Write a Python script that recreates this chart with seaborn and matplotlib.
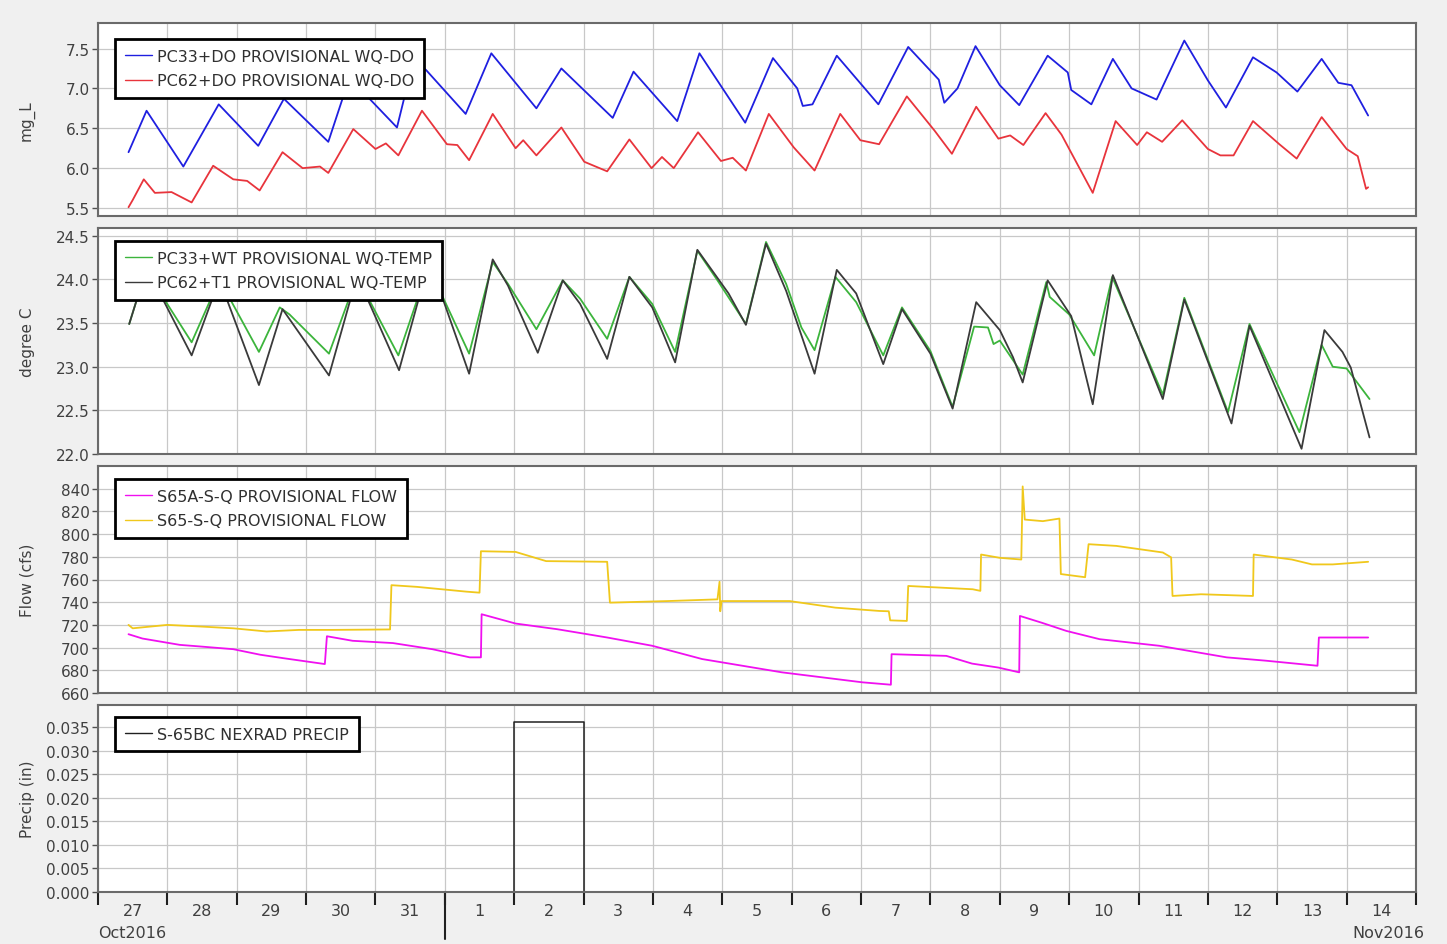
import numpy as np
import pandas as pd
import matplotlib
matplotlib.use('Agg')
import matplotlib.pyplot as plt
import matplotlib.transforms as mtransforms
from matplotlib.ticker import FormatStrFormatter
import seaborn as sns

# --- Dados (dias contados a partir de 27/Out/2016 00:00) ---

# Painel 1: oxigênio dissolvido (mg_L)
do_pc33_dias = [0.44, 0.70, 1.23, 1.74, 2.31, 2.68, 3.32, 3.68, 3.87, 4.31, 4.55, 4.73,
                5.30, 5.67, 6.32, 6.68, 7.42, 7.72, 8.35, 8.67, 9.33, 9.73, 10.08, 10.16,
                10.30, 10.65, 11.25, 11.68, 12.12, 12.20, 12.39, 12.65, 13.00, 13.28, 13.69,
                13.98, 14.03, 14.32, 14.63, 14.90, 15.26, 15.66, 16.00, 16.26, 16.65, 16.99,
                17.29, 17.64, 17.88, 18.07, 18.31]
do_pc33_vals = [6.20, 6.72, 6.02, 6.80, 6.28, 6.87, 6.33, 7.28, 6.91, 6.51, 7.36, 7.23,
                6.68, 7.44, 6.75, 7.25, 6.63, 7.21, 6.59, 7.44, 6.57, 7.38, 7.00, 6.78,
                6.80, 7.41, 6.80, 7.52, 7.11, 6.82, 7.00, 7.53, 7.04, 6.79, 7.41,
                7.20, 6.98, 6.80, 7.37, 7.00, 6.86, 7.60, 7.10, 6.76, 7.39, 7.20,
                6.96, 7.37, 7.07, 7.04, 6.66]

do_pc62_dias = [0.44, 0.50, 0.66, 0.82, 1.06, 1.35, 1.66, 1.95, 2.15, 2.33, 2.66, 2.95,
                3.20, 3.32, 3.68, 4.00, 4.15, 4.33, 4.67, 5.03, 5.18, 5.35, 5.69, 6.02,
                6.13, 6.32, 6.68, 7.01, 7.34, 7.66, 7.98, 8.13, 8.30, 8.65, 8.98, 9.15,
                9.34, 9.67, 10.03, 10.33, 10.70, 10.99, 11.26, 11.66, 12.06, 12.31, 12.66,
                12.98, 13.15, 13.34, 13.66, 13.89, 14.34, 14.67, 14.98, 15.12, 15.34, 15.63,
                16.00, 16.18, 16.37, 16.65, 17.03, 17.28, 17.64, 18.00, 18.16, 18.28, 18.31]
do_pc62_vals = [5.51, 5.60, 5.86, 5.69, 5.70, 5.57, 6.03, 5.86, 5.84, 5.72, 6.20, 6.00,
                6.02, 5.94, 6.49, 6.24, 6.31, 6.16, 6.72, 6.30, 6.29, 6.10, 6.68, 6.25,
                6.35, 6.16, 6.51, 6.08, 5.96, 6.36, 6.00, 6.14, 6.00, 6.45, 6.09, 6.13,
                5.97, 6.68, 6.26, 5.97, 6.68, 6.35, 6.30, 6.90, 6.47, 6.18, 6.77,
                6.37, 6.41, 6.29, 6.69, 6.42, 5.69, 6.59, 6.29, 6.45, 6.33, 6.60,
                6.24, 6.16, 6.16, 6.59, 6.30, 6.12, 6.64, 6.24, 6.15, 5.74, 5.76]

# Painel 2: temperatura (degree C)
wt_pc62_dias = [0.45, 0.65, 0.95, 1.35, 1.75, 2.32, 2.66, 3.33, 3.72, 3.90, 4.34, 4.70,
                4.97, 5.35, 5.69, 5.91, 6.34, 6.70, 6.95, 7.34, 7.66, 7.99, 8.32, 8.64,
                9.09, 9.34, 9.63, 9.92, 10.33, 10.65, 10.93, 11.32, 11.59, 12.00, 12.32,
                12.66, 13.00, 13.19, 13.33, 13.69, 14.03, 14.34, 14.63, 15.35, 15.66, 16.34,
                16.60, 17.35, 17.68, 17.94, 18.06, 18.33]
wt_pc62_vals = [23.49, 24.00, 23.75, 23.13, 24.00, 22.79, 23.66, 22.90, 24.00, 23.75, 22.96, 24.00,
                23.78, 22.92, 24.23, 23.93, 23.16, 23.99, 23.72, 23.09, 24.03, 23.68, 23.05, 24.34,
                23.84, 23.48, 24.41, 23.87, 22.92, 24.11, 23.84, 23.03, 23.66, 23.15, 22.52,
                23.74, 23.42, 23.11, 22.82, 23.99, 23.58, 22.57, 24.05, 22.63, 23.77, 22.35,
                23.47, 22.06, 23.42, 23.17, 22.99, 22.19]

wt_pc33_dias = [0.45, 0.65, 0.95, 1.35, 1.75, 2.32, 2.62, 2.76, 3.33, 3.72, 3.90, 4.33,
                4.70, 4.97, 5.35, 5.69, 5.91, 6.32, 6.70, 6.95, 7.34, 7.66, 7.99, 8.32,
                8.64, 8.93, 9.34, 9.63, 9.92, 10.14, 10.33, 10.63, 10.93, 11.32, 11.59,
                12.00, 12.32, 12.63, 12.83, 12.91, 13.00, 13.33, 13.67, 13.72, 14.00, 14.36,
                14.62, 15.35, 15.66, 16.29, 16.60, 17.32, 17.64, 17.80, 18.00, 18.33]
wt_pc33_vals = [23.49, 24.00, 23.78, 23.28, 24.00, 23.17, 23.68, 23.60, 23.15, 24.00, 23.78, 23.13,
                24.00, 23.80, 23.15, 24.20, 23.95, 23.43, 23.99, 23.78, 23.32, 24.03, 23.72, 23.17,
                24.33, 23.99, 23.49, 24.43, 23.95, 23.45, 23.19, 24.03, 23.74, 23.13, 23.68,
                23.18, 22.54, 23.46, 23.45, 23.26, 23.30, 22.91, 23.97, 23.80, 23.60, 23.13,
                24.03, 22.68, 23.79, 22.48, 23.49, 22.25, 23.25, 23.00, 22.98, 22.63]

# Painel 3: vazão (cfs)
q_s65a_dias = [0.44, 0.64, 1.18, 1.47, 1.95, 2.34, 2.67, 3.27, 3.30, 3.67, 4.25, 4.82,
               5.36, 5.52, 5.53, 6.02, 6.62, 7.34, 7.99, 8.71, 9.86, 11.02, 11.43, 11.44,
               12.23, 12.60, 12.98, 13.28, 13.29, 13.60, 13.96, 14.44, 15.30, 16.27, 16.83,
               17.58, 17.60, 18.31]
q_s65a_vals = [711.8, 708.0, 702.4, 701.0, 698.6, 693.7, 690.7, 685.5, 710.0, 706.0, 704.0, 698.6,
               691.4, 691.4, 729.4, 721.2, 716.2, 708.9, 701.6, 689.9, 678.2, 669.4, 667.3, 694.2,
               692.7, 685.9, 682.4, 678.2, 727.9, 722.0, 714.7, 707.4, 701.6, 691.4, 688.5,
               684.0, 708.9, 708.9]

q_s65_dias = [0.44, 0.50, 1.00, 1.47, 1.95, 2.43, 2.90, 3.38, 4.21, 4.23, 4.60, 5.31,
              5.50, 5.52, 6.02, 6.46, 7.34, 7.38, 8.21, 8.93, 8.96, 8.97, 8.99, 9.59,
              9.97, 10.63, 11.26, 11.40, 11.42, 11.66, 11.68, 12.61, 12.72, 12.73, 13.00,
              13.31, 13.33, 13.36, 13.62, 13.86, 13.88, 14.23, 14.28, 14.68, 15.35, 15.47,
              15.49, 15.90, 16.65, 16.66, 17.21, 17.50, 17.80, 18.31]
q_s65_vals = [720.0, 717.0, 720.0, 718.6, 717.0, 714.2, 715.6, 715.6, 716.0, 755.0, 753.5, 749.3,
              748.4, 784.9, 784.3, 776.2, 775.6, 739.6, 741.0, 742.5, 758.0, 732.0, 741.0, 741.0,
              741.0, 735.2, 732.3, 732.0, 724.0, 723.5, 754.3, 751.4, 750.0, 782.0, 779.1,
              777.6, 842.0, 812.8, 811.4, 813.7, 764.8, 762.0, 791.1, 789.6, 783.8, 779.5,
              745.5, 747.0, 745.5, 782.0, 777.6, 773.3, 773.3, 775.6]

# Painel 4: precipitação diária (in), 27/Out a 14/Nov
precip_vals = [0, 0, 0, 0, 0, 0, 0.036, 0, 0, 0, 0, 0, 0, 0, 0, 0, 0, 0, 0]

dia_rotulos = ['27', '28', '29', '30', '31', '1', '2', '3', '4', '5', '6', '7',
               '8', '9', '10', '11', '12', '13', '14']

# --- Estilo ---
sns.set_style("whitegrid")
plt.rcParams['font.family'] = ['DejaVu Sans']

cor_texto = '#404040'

fig = plt.figure(figsize=(14.47, 9.45), dpi=100, facecolor='#f0f0f0')
esq, larg = 98 / 1447, 1318 / 1447
paineis_px = [(24, 217), (229, 455), (467, 694), (706, 893)]
axes = []
for topo, base in paineis_px:
    ax = fig.add_axes([esq, 1 - base / 945, larg, (base - topo) / 945])
    ax.set_facecolor('white')
    axes.append(ax)


def serie_df(dias, vals, nome):
    return pd.DataFrame({'dia': dias, 'valor': vals, 'serie': nome})


def desenha(ax, partes, cores):
    df = pd.concat(partes, ignore_index=True)
    nomes = list(cores.keys())
    sns.lineplot(data=df, x='dia', y='valor', hue='serie', hue_order=nomes,
                 palette=cores, estimator=None, sort=False, linewidth=1.3, ax=ax)


def estilo(ax, ylim, yticks, fmt, ylabel, leg_topo):
    ax.set_xlim(0, 19)
    ax.set_ylim(*ylim)
    ax.set_yticks(yticks)
    ax.yaxis.set_major_formatter(FormatStrFormatter(fmt))
    ax.set_xticks(np.arange(0, 20))
    ax.grid(True, color='#c8c8c8', linewidth=0.9)
    ax.tick_params(axis='x', length=0, labelbottom=False)
    ax.tick_params(axis='y', left=True, length=4, width=1, color='#505050',
                   labelcolor=cor_texto, labelsize=11, pad=2)
    for sp in ax.spines.values():
        sp.set_color('#6a6a6a')
        sp.set_linewidth(1.5)
    ax.set_xlabel('')
    ax.set_ylabel(ylabel, fontsize=11, color=cor_texto)
    ax.yaxis.set_label_coords(-0.048, 0.5)
    handles, labels = ax.get_legend_handles_labels()
    leg = ax.legend(handles, labels, loc='upper left', bbox_to_anchor=(0.013, leg_topo),
                    borderaxespad=0, fancybox=False, framealpha=1, edgecolor='black',
                    fontsize=11.5, handlelength=1.7, handletextpad=0.35,
                    labelspacing=0.6, borderpad=0.6)
    leg.get_frame().set_linewidth(2)
    for h in leg.get_lines():
        h.set_linewidth(1.0)
    for t in leg.get_texts():
        t.set_color('#303030')


# Painel 1
desenha(axes[0], [serie_df(do_pc33_dias, do_pc33_vals, 'PC33+DO PROVISIONAL WQ-DO'),
                  serie_df(do_pc62_dias, do_pc62_vals, 'PC62+DO PROVISIONAL WQ-DO')],
        {'PC33+DO PROVISIONAL WQ-DO': '#1f1fe0', 'PC62+DO PROVISIONAL WQ-DO': '#e8343c'})
estilo(axes[0], (5.40, 7.82), [5.5, 6.0, 6.5, 7.0, 7.5], '%.1f', 'mg_L', 0.917)

# Painel 2
desenha(axes[1], [serie_df(wt_pc33_dias, wt_pc33_vals, 'PC33+WT PROVISIONAL WQ-TEMP'),
                  serie_df(wt_pc62_dias, wt_pc62_vals, 'PC62+T1 PROVISIONAL WQ-TEMP')],
        {'PC33+WT PROVISIONAL WQ-TEMP': '#3cb43c', 'PC62+T1 PROVISIONAL WQ-TEMP': '#3a3a3a'})
estilo(axes[1], (22.0, 24.59), [22.0, 22.5, 23.0, 23.5, 24.0, 24.5], '%.1f', 'degree C', 0.942)

# Painel 3
desenha(axes[2], [serie_df(q_s65a_dias, q_s65a_vals, 'S65A-S-Q PROVISIONAL FLOW'),
                  serie_df(q_s65_dias, q_s65_vals, 'S65-S-Q PROVISIONAL FLOW')],
        {'S65A-S-Q PROVISIONAL FLOW': '#f010f0', 'S65-S-Q PROVISIONAL FLOW': '#f0c81c'})
estilo(axes[2], (660, 860), np.arange(660, 841, 20), '%d', 'Flow (cfs)', 0.943)

# Painel 4: precipitação em degraus
precip_dias = list(range(len(precip_vals) + 1))
precip_plot = precip_vals + [precip_vals[-1]]
sns.lineplot(x=precip_dias, y=precip_plot, color='#202020', linewidth=1.1,
             estimator=None, sort=False, drawstyle='steps-post',
             label='S-65BC NEXRAD PRECIP', ax=axes[3])
estilo(axes[3], (0, 0.0397), np.arange(0, 0.0351, 0.005), '%.3f', 'Precip (in)', 0.936)

# Eixo x do painel inferior: marcas nos limites dos dias, rótulos no meio
ax = axes[3]
ax.set_xticks(np.arange(0, 20))
ax.set_xticks(np.arange(0.5, 19), minor=True)
ax.set_xticklabels(dia_rotulos, minor=True)
ax.tick_params(axis='x', which='major', length=9, width=1.5, color='#202020',
               labelbottom=False, bottom=True)
ax.tick_params(axis='x', which='minor', length=0, labelbottom=True, labelsize=11.5,
               labelcolor=cor_texto, pad=8)
trans = mtransforms.blended_transform_factory(ax.transData, ax.transAxes)
ax.plot([5, 5], [0, -0.25], transform=trans, color='#202020', lw=1.5, clip_on=False)
ax.text(0.5, -0.215, 'Oct2016', transform=trans, ha='center', va='center',
        fontsize=11.5, color=cor_texto)
ax.text(18.6, -0.215, 'Nov2016', transform=trans, ha='center', va='center',
        fontsize=11.5, color=cor_texto)

fig.savefig('out.png', dpi=100, facecolor=fig.get_facecolor())
